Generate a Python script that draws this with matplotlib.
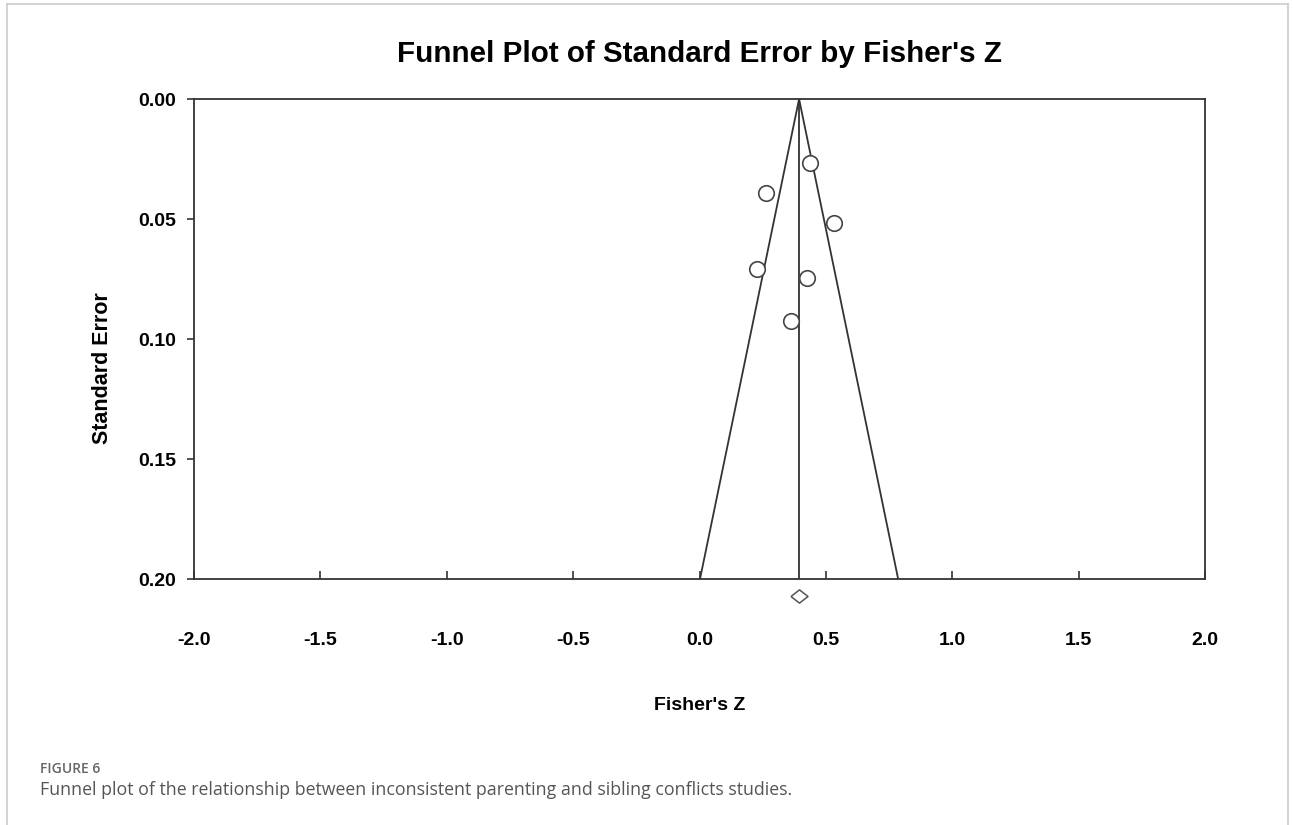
import matplotlib

matplotlib.use("Agg")
import matplotlib.pyplot as plt
from matplotlib.lines import Line2D

# study effects (Fisher's Z) and standard errors
fisher_z = [0.437, 0.262, 0.533, 0.226, 0.425, 0.361]
std_err = [0.0265, 0.0393, 0.0518, 0.0710, 0.0747, 0.0925]
pooled_z = 0.394
funnel_se = 0.20
diamond_se = 0.207

x_ticks = [-2.0, -1.5, -1.0, -0.5, 0.0, 0.5, 1.0, 1.5, 2.0]
y_ticks = [0.00, 0.05, 0.10, 0.15, 0.20]

plt.rcParams["font.family"] = ["Liberation Sans", "DejaVu Sans"]

W, H = 1293, 825
fig = plt.figure(figsize=(W / 100, H / 100), dpi=100)
ax = fig.add_axes([194 / W, 1 - 579 / H, 1011 / W, 480 / H])

# funnel (95% limits) and pooled line
half = 1.96 * funnel_se
ax.plot([pooled_z - half, pooled_z, pooled_z + half], [funnel_se, 0, funnel_se],
        color="#333333", lw=1.3)
ax.plot([pooled_z, pooled_z], [0, funnel_se], color="#333333", lw=1.3)
ax.scatter(fisher_z, std_err, s=125, facecolor="white", edgecolor="#444444",
           linewidth=1.2, zorder=3)
diamond = [(-1, 0), (0, 0.78), (1, 0), (0, -0.78), (-1, 0)]
ax.scatter([pooled_z], [diamond_se], marker=diamond, s=150, facecolor="white",
           edgecolor="#555555", linewidth=1.1, clip_on=False, zorder=3)

ax.set_xlim(-2, 2)
ax.set_ylim(0.20, 0.0)
ax.set_xticks(x_ticks)
ax.set_xticklabels([f"{v:.1f}" for v in x_ticks])
ax.set_yticks(y_ticks)
ax.set_yticklabels([f"{v:.2f}" for v in y_ticks])
ax.tick_params(axis="x", direction="in", length=6, width=1.2, pad=38,
               labelsize=14, color="#333333")
ax.tick_params(axis="y", direction="out", length=5, width=1.2, pad=8,
               labelsize=14, color="#333333")
for lab in ax.get_xticklabels() + ax.get_yticklabels():
    lab.set_fontweight("bold")
for sp in ax.spines.values():
    sp.set_color("#333333")
    sp.set_linewidth(1.3)

ax.set_xlabel("Fisher's Z", fontsize=14, fontweight="bold")
ax.xaxis.set_label_coords(0.5, -(697 - 579) / 480)
ax.set_ylabel("Standard Error", fontsize=15.5, fontweight="bold", va="center")
ax.yaxis.set_label_coords((103 - 194) / 1011, 1 - (368 - 99) / 480)
fig.text(699 / W, 1 - 54 / H, "Funnel Plot of Standard Error by Fisher's Z",
         ha="center", va="center", fontsize=21.3, fontweight="bold")

# caption block
cap_font = ["Open Sans", "DejaVu Sans"]
fig.text(40 / W, 1 - 769 / H, "FIGURE 6", fontsize=10, color="#666666",
         family=cap_font, fontweight="semibold", va="center")
fig.text(40 / W, 1 - 790 / H,
         "Funnel plot of the relationship between inconsistent parenting and sibling conflicts studies.",
         fontsize=12.8, color="#555555", family=cap_font, va="center")

# outer panel frame
frame = dict(color="#cccccc", lw=1.2, transform=fig.transFigure)
fig.add_artist(Line2D([7 / W, 7 / W], [0, 1 - 4 / H], **frame))
fig.add_artist(Line2D([7 / W, 1288 / W], [1 - 4 / H, 1 - 4 / H], **frame))
fig.add_artist(Line2D([1288 / W, 1288 / W], [0, 1 - 4 / H], **frame))

fig.savefig("out.png", dpi=100)
